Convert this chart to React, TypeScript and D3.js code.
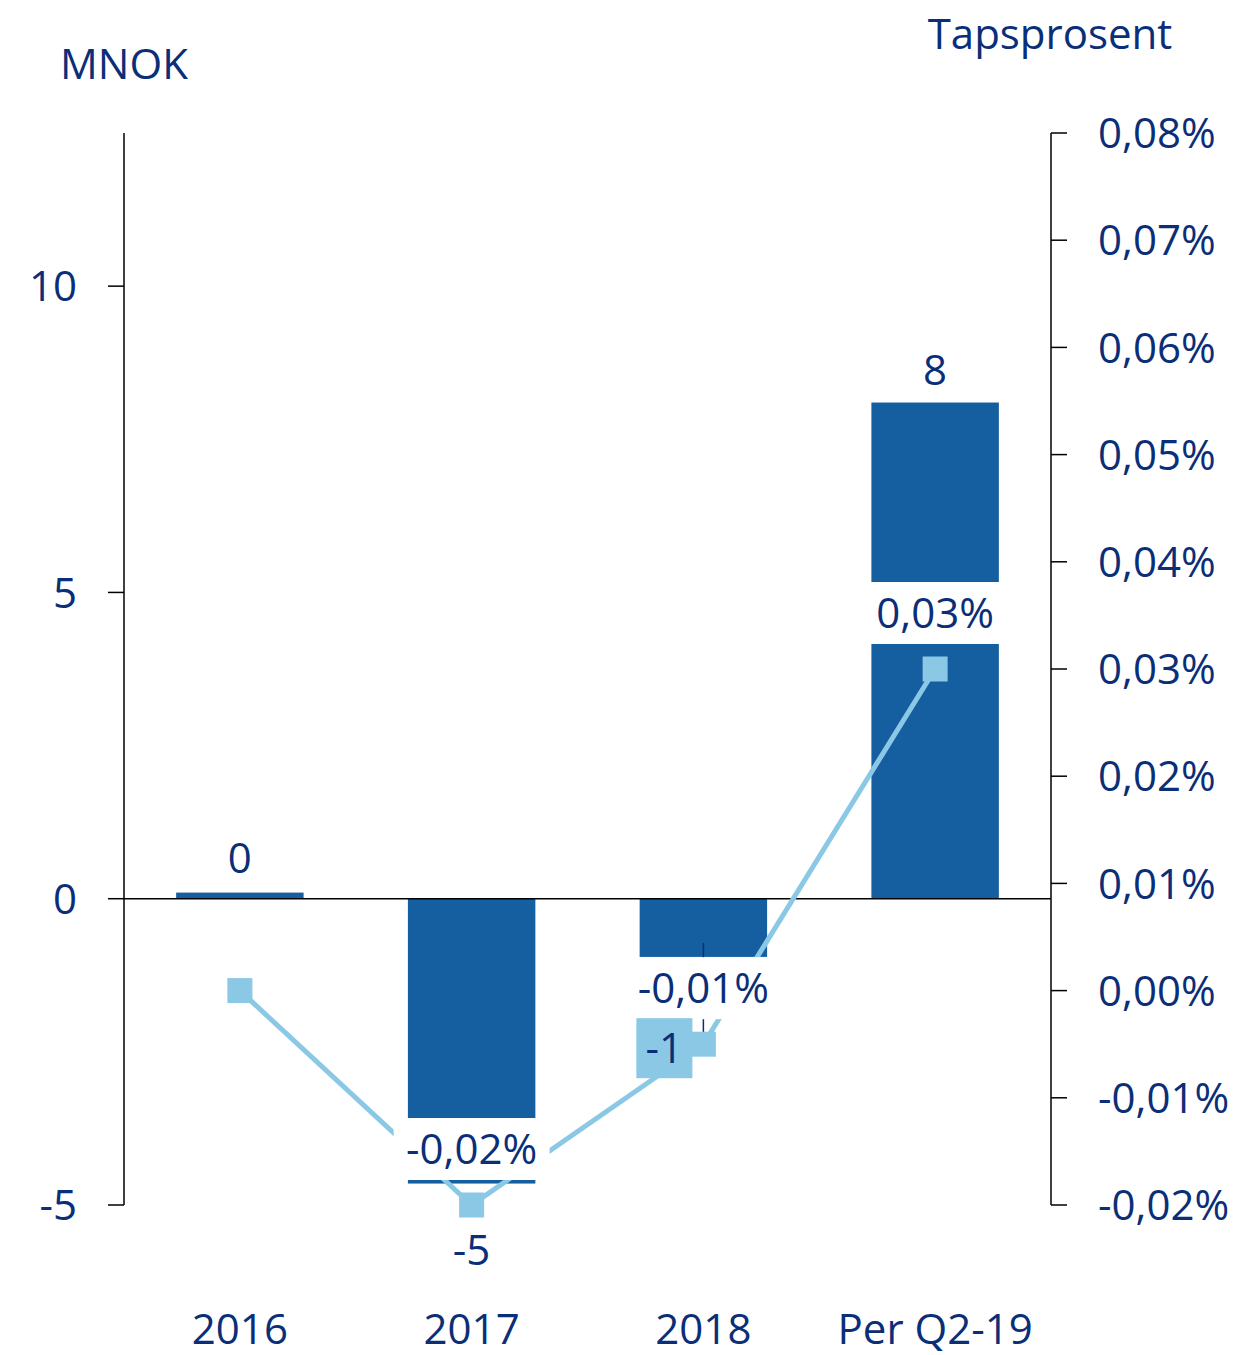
import * as d3 from "d3";

const categories = ["2016", "2017", "2018", "Per Q2-19"];
const lossMnok = [0.1, -4.65, -0.95, 8.1];
const lossLabels = ["0", "-5", "-1", "8"];
const lossPct = [0.0, -0.02, -0.005, 0.03];
const pctLabels = [null, "-0,02%", "-0,01%", "0,03%"];
const leftTicks = [-5, 0, 5, 10];
const rightTicks = [0.08, 0.07, 0.06, 0.05, 0.04, 0.03, 0.02, 0.01, 0.0, -0.01, -0.02];

const W = 1251;
const H = 1355;
const FONT = "'Open Sans', sans-serif";
const FS = 42;
const TEXT = "#0B2E78";
const BAR = "#155E9F";
const LINE = "#8AC8E5";

// vertical nudges for the bar value labels (px from the bar end)
const barLabelShift = [-35, 66, 0, -33];

export default function App() {
  const left = 124;
  const right = 1051;
  const top = 133;
  const bottom = 1205;

  const x = d3.scaleBand<string>()
    .domain(categories)
    .range([left, right])
    .paddingInner(0.45)
    .paddingOuter(0.225);
  const yL = d3.scaleLinear().domain([-5, 12.5]).range([bottom, top]);
  const yR = d3.scaleLinear().domain([-0.02, 0.08]).range([bottom, top]);
  const cx = (c: string) => (x(c) as number) + x.bandwidth() / 2;

  const line = d3.line<number>()
    .x((_, i) => cx(categories[i]))
    .y(d => yR(d));

  const fmtPct = (v: number) =>
    d3.format(".2f")(v).replace("\u2212", "-").replace(".", ",").replace("-0,00", "0,00") + "%";
  const base = (cy: number) => cy + FS * 0.36;

  // 2018 label sits on its own tag to the lower left of the bar
  const i18 = 2;
  const tagCx = cx(categories[i18]) - 39;
  const tagCy = yR(lossPct[i18]) + 4;

  return (
    <svg width={W} height={H} style={{ position: "absolute", left: 0, top: 0, background: "#fff" }}
      fontFamily={FONT} fontSize={FS}>
      <text x={124} y={base(64)} textAnchor="middle" fill={TEXT}>MNOK</text>
      <text x={1050} y={base(34)} textAnchor="middle" fill={TEXT}>Tapsprosent</text>

      {/* bars */}
      {lossMnok.map((v, i) => (
        <rect key={i} x={x(categories[i])} width={x.bandwidth()}
          y={Math.min(yL(v), yL(0))} height={Math.abs(yL(v) - yL(0))} fill={BAR} />
      ))}

      {/* zero line and axes */}
      <line x1={left} x2={right} y1={yL(0)} y2={yL(0)} stroke="#000" strokeWidth={1.5} />
      <line x1={left} x2={left} y1={top} y2={bottom} stroke="#000" strokeWidth={1.5} />
      <line x1={right} x2={right} y1={top} y2={bottom} stroke="#000" strokeWidth={1.5} />
      {leftTicks.map(t => (
        <g key={t}>
          <line x1={left - 16} x2={left} y1={yL(t)} y2={yL(t)} stroke="#000" strokeWidth={1.5} />
          <text x={77} y={base(yL(t))} textAnchor="end" fill={TEXT}>{t}</text>
        </g>
      ))}
      {rightTicks.map(t => (
        <g key={t}>
          <line x1={right} x2={right + 16} y1={yR(t)} y2={yR(t)} stroke="#000" strokeWidth={1.5} />
          <text x={1098} y={base(yR(t))} fill={TEXT}>{fmtPct(t)}</text>
        </g>
      ))}

      {/* leader for 2018 bar label */}
      <polyline
        points={`${cx(categories[i18])},${yL(lossMnok[i18]) - 14} ${cx(categories[i18])},${tagCy} ${tagCx + 28},${tagCy}`}
        fill="none" stroke={TEXT} strokeWidth={1.5} />

      {/* loss percentage line */}
      <path d={line(lossPct) || ""} fill="none" stroke={LINE} strokeWidth={5} />
      {lossPct.map((v, i) => (
        <rect key={i} x={cx(categories[i]) - 12.5} y={yR(v) - 12.5} width={25} height={25} fill={LINE} />
      ))}

      {/* percentage labels on white boxes */}
      {lossPct.map((v, i) => pctLabels[i] && (
        <g key={i}>
          <rect x={cx(categories[i]) - 78} y={yR(v) - 56 - 31} width={156} height={62} fill="#fff" />
          <text x={cx(categories[i])} y={base(yR(v) - 56)} textAnchor="middle" fill={TEXT}>{pctLabels[i]}</text>
        </g>
      ))}

      {/* bar value labels */}
      {lossMnok.map((v, i) => i === i18 ? (
        <g key={i}>
          <rect x={tagCx - 28} y={tagCy - 30} width={56} height={60} fill={LINE} />
          <text x={tagCx} y={base(tagCy)} textAnchor="middle" fill={TEXT}>{lossLabels[i]}</text>
        </g>
      ) : (
        <text key={i} x={cx(categories[i])} y={base(yL(v) + barLabelShift[i])} textAnchor="middle" fill={TEXT}>
          {lossLabels[i]}
        </text>
      ))}

      {/* category labels */}
      {categories.map(c => (
        <text key={c} x={cx(c)} y={base(1329)} textAnchor="middle" fill={TEXT}>{c}</text>
      ))}
    </svg>
  );
}
